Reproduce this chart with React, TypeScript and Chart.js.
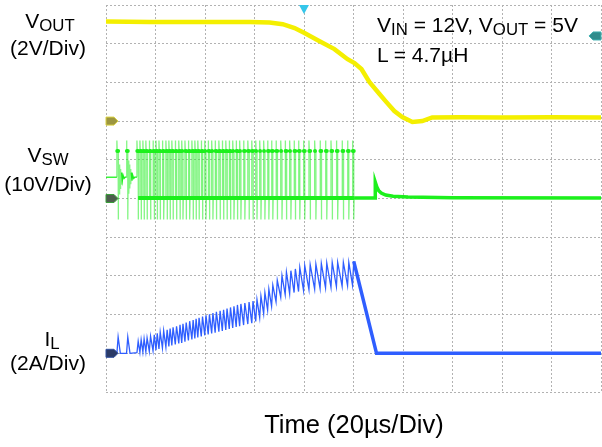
import React, { useEffect, useRef } from 'react';
import { Chart, registerables } from 'chart.js';

Chart.register(...registerables);

const WIDTH = 602;
const HEIGHT = 447;

// ---- axes: time in µs (20 µs/div), vertical in screen divisions ----
const TIME_MIN = 0;
const TIME_MAX = 200;
const TIME_STEP = 20;
const DIV_MIN = 0;
const DIV_MAX = 10;

// ---- channel settings: ground position (div) and units per division ----
const VOUT_GROUND_DIV = 7;
const VOUT_PER_DIV = 2; // V/div
const VSW_GROUND_DIV = 5;
const VSW_PER_DIV = 10; // V/div
const IL_GROUND_DIV = 1;
const IL_PER_DIV = 2; // A/div
const TRIGGER_TIME = 80; // µs
const TRIGGER_LEVEL = 4.4; // V on VOUT

// ---- VOUT (V) ----
const voutTime = [0, 17.7, 37.9, 58.1, 66.1, 71.4, 76.2, 80.2, 86.3, 92.3, 97.6, 100.4, 103.2, 106.4, 110.5, 113.3, 116.5, 119.7, 123.8, 127.8, 131.8, 142.7, 160, 180, 200];
const voutValue = [5.15, 5.12, 5.12, 5.12, 5.1, 5.01, 4.81, 4.55, 4.13, 3.72, 3.2, 3.0, 2.69, 2.02, 1.4, 0.98, 0.52, 0.21, -0.05, 0.0, 0.19, 0.2, 0.19, 0.2, 0.19];

// ---- switching events (µs) ----
const dcmPulseTimes = [4.4, 8.3];
const ccmPulseTimes = [12.5, 13.7, 14.9, 16.1, 17.5, 19.0, 20.2, 21.4, 22.8, 24.2, 25.4, 26.6, 28.0, 29.4, 30.6, 31.9, 33.3, 34.7, 35.9, 37.1, 38.5, 39.9, 41.3, 42.7, 44.1, 45.6, 47.0, 48.4, 49.8, 51.2, 52.6, 54.0, 55.6, 57.3, 58.9, 60.5, 62.1, 63.7, 65.3, 66.9, 68.7, 70.6, 72.4, 74.2, 76.0, 77.8, 79.8, 82.0, 84.3, 86.5, 88.7, 90.9, 93.1, 95.4, 97.6, 99.6];
const ON_TIME = 0.5; // µs
const EDGE = 0.15; // µs

// ---- VSW levels (V) ----
const VSW_IDLE = 5.5;
const VSW_HIGH = 12.3;
const VSW_SPIKE = 15;
const VSW_UNDERSHOOT = -5.4;
const VSW_LOW = 0.1;
// ringing after DCM pulses: time after falling edge (µs), value (V)
const ringDt = [0.2, 0.4, 0.6, 0.8, 1.0, 1.2, 1.4, 1.7, 2.0, 2.4, 2.8];
const ringV = [9.8, 1.2, 8.8, 2.6, 7.6, 3.7, 6.7, 4.6, 6.0, 5.2, 5.5];
// after switching stops
const vswTailTime = [100.25, 108.7, 108.8, 109.4, 110.2, 111.2, 113, 116, 122, 140, 200];
const vswTailValue = [0.1, 0.1, 4.2, 3.0, 2.0, 1.4, 0.9, 0.6, 0.4, 0.2, 0.1];

// ---- IL (A) ----
const ilDcmPeak = [0.85, 0.85];
const IL_DCM_FALL = 0.9; // µs
const ilPeak = [0.62, 0.70, 0.75, 0.80, 0.88, 0.95, 1.03, 1.09, 1.16, 1.22, 1.28, 1.34, 1.40, 1.47, 1.52, 1.59, 1.66, 1.72, 1.78, 1.83, 1.90, 1.96, 2.02, 2.08, 2.14, 2.20, 2.25, 2.31, 2.37, 2.43, 2.50, 2.55, 2.60, 2.65, 2.70, 2.78, 2.96, 3.14, 3.32, 3.52, 3.77, 4.02, 4.19, 4.27, 4.36, 4.44, 4.53, 4.58, 4.61, 4.64, 4.67, 4.70, 4.70, 4.70, 4.70, 4.75];
const ilValley = [0.03, 0.05, 0.06, 0.08, 0.10, 0.13, 0.16, 0.22, 0.27, 0.32, 0.36, 0.41, 0.46, 0.51, 0.54, 0.60, 0.66, 0.72, 0.77, 0.82, 0.87, 0.93, 0.98, 1.03, 1.07, 1.12, 1.16, 1.21, 1.26, 1.31, 1.36, 1.40, 1.46, 1.51, 1.56, 1.65, 1.84, 2.04, 2.23, 2.43, 2.66, 2.90, 3.03, 3.08, 3.14, 3.19, 3.25, 3.29, 3.32, 3.35, 3.38, 3.41, 3.44, 3.47, 3.50, 3.52];
const ilTailTime = [100.1, 109.3, 200];
const ilTailValue = [4.75, 0, 0];

// ---- colours ----
const YELLOW = '#f4ef00';
const GREEN = '#1cf01c';
const GREEN_EDGE = 'rgba(50,238,50,0.6)';
const BLUE = '#2f5eff';
const GRID = '#b2b2b2';

type P = { x: number; y: number | null };

const toDiv = (v: number, ground: number, perDiv: number) => ground + v / perDiv;
const sw = (v: number) => toDiv(v, VSW_GROUND_DIV, VSW_PER_DIV);
const il = (a: number) => toDiv(a, IL_GROUND_DIV, IL_PER_DIV);

function buildVout(): P[] {
  return voutTime.map((t, i) => ({ x: t, y: toDiv(voutValue[i], VOUT_GROUND_DIV, VOUT_PER_DIV) }));
}

function buildVsw(): P[] {
  const pts: P[] = [];
  const push = (t: number, v: number) => pts.push({ x: t, y: sw(v) });
  push(0, VSW_IDLE);
  dcmPulseTimes.forEach((t) => {
    push(t, VSW_IDLE);
    push(t, VSW_SPIKE);
    push(t + EDGE, VSW_HIGH);
    push(t + ON_TIME, VSW_HIGH);
    push(t + ON_TIME, VSW_UNDERSHOOT);
    ringDt.forEach((dt, k) => push(t + ON_TIME + dt, ringV[k]));
  });
  ccmPulseTimes.forEach((t, i) => {
    push(t, i === 0 ? VSW_IDLE : VSW_LOW);
    push(t, VSW_SPIKE);
    push(t + EDGE, VSW_HIGH);
    push(t + ON_TIME, VSW_HIGH);
    push(t + ON_TIME, VSW_UNDERSHOOT);
    push(t + ON_TIME + EDGE, VSW_LOW);
  });
  return pts;
}

// bright "on" plateaus, one short stroke per pulse
function buildVswHighBand(): P[] {
  const pts: P[] = [];
  [...dcmPulseTimes, ...ccmPulseTimes].forEach((t) => {
    pts.push({ x: t + EDGE, y: sw(VSW_HIGH) });
    pts.push({ x: t + ON_TIME, y: sw(VSW_HIGH) });
    pts.push({ x: t + ON_TIME, y: null });
  });
  return pts;
}

// bright "off" level while switching
function buildVswLowBand(): P[] {
  const first = ccmPulseTimes[0];
  const last = ccmPulseTimes[ccmPulseTimes.length - 1];
  return [
    { x: first + ON_TIME, y: sw(VSW_LOW) },
    { x: last + ON_TIME + EDGE, y: sw(VSW_LOW) },
  ];
}

function buildVswTail(): P[] {
  return vswTailTime.map((t, i) => ({ x: t, y: sw(vswTailValue[i]) }));
}

function buildIl(): P[] {
  const pts: P[] = [];
  const push = (t: number, a: number) => pts.push({ x: t, y: il(a) });
  push(0, 0);
  dcmPulseTimes.forEach((t, k) => {
    push(t, 0);
    push(t + ON_TIME, ilDcmPeak[k]);
    push(t + ON_TIME + IL_DCM_FALL, 0);
  });
  ccmPulseTimes.forEach((t, i) => {
    push(t, ilValley[i]);
    push(t + ON_TIME, ilPeak[i]);
  });
  return pts;
}

function buildIlTail(): P[] {
  return ilTailTime.map((t, i) => ({ x: t, y: il(ilTailValue[i]) }));
}

function drawTag(ctx: CanvasRenderingContext2D, x: number, y: number, fill: string, stroke: string, dir: 1 | -1) {
  const w = 12;
  const h = 8;
  ctx.save();
  ctx.beginPath();
  if (dir === 1) {
    ctx.moveTo(x, y - h / 2);
    ctx.lineTo(x + w - 4, y - h / 2);
    ctx.lineTo(x + w, y);
    ctx.lineTo(x + w - 4, y + h / 2);
    ctx.lineTo(x, y + h / 2);
  } else {
    ctx.moveTo(x, y - h / 2);
    ctx.lineTo(x - w + 4, y - h / 2);
    ctx.lineTo(x - w, y);
    ctx.lineTo(x - w + 4, y + h / 2);
    ctx.lineTo(x, y + h / 2);
  }
  ctx.closePath();
  ctx.fillStyle = fill;
  ctx.fill();
  ctx.lineWidth = 1;
  ctx.strokeStyle = stroke;
  ctx.stroke();
  ctx.restore();
}

const scopeMarkers = {
  id: 'scopeMarkers',
  afterDatasetsDraw(chart: any) {
    const { ctx, chartArea, scales } = chart;
    const x = scales.x;
    const y = scales.y;
    drawTag(ctx, chartArea.left, y.getPixelForValue(VOUT_GROUND_DIV), '#9c9640', '#d8d040', 1);
    drawTag(ctx, chartArea.left, y.getPixelForValue(VSW_GROUND_DIV), '#4d5d4d', '#3aa03a', 1);
    drawTag(ctx, chartArea.left, y.getPixelForValue(IL_GROUND_DIV), '#2b3a66', '#3050a0', 1);
    drawTag(ctx, chartArea.right, y.getPixelForValue(VOUT_GROUND_DIV + TRIGGER_LEVEL / VOUT_PER_DIV), '#2f8c8c', '#3fb0b0', -1);
    const tx = x.getPixelForValue(TRIGGER_TIME);
    ctx.save();
    ctx.beginPath();
    ctx.moveTo(tx - 5, chartArea.top);
    ctx.lineTo(tx + 5, chartArea.top);
    ctx.lineTo(tx, chartArea.top + 9);
    ctx.closePath();
    ctx.fillStyle = '#35c6ea';
    ctx.fill();
    ctx.restore();
  },
};

const font = '"Liberation Sans", Arial, Helvetica, sans-serif';

function Label(props: { left: number; width: number; baseline: number; size: number; align: 'left' | 'center'; children: React.ReactNode }) {
  const { left, width, baseline, size, align, children } = props;
  return (
    <div
      style={{
        position: 'absolute',
        left,
        width,
        top: baseline - 0.3465 * size,
        lineHeight: 0,
        fontSize: size,
        textAlign: align,
        whiteSpace: 'nowrap',
        fontFamily: font,
        color: '#000',
      }}
    >
      {children}
    </div>
  );
}

const Sub = (props: { children: React.ReactNode }) => (
  <span style={{ fontSize: '0.8em', position: 'relative', top: '0.22em' }}>{props.children}</span>
);

export default function App() {
  const canvasRef = useRef<HTMLCanvasElement | null>(null);

  useEffect(() => {
    const canvas = canvasRef.current;
    if (!canvas) return;
    const isEdge = (ctx: any) => Math.abs(ctx.p0.x - ctx.p1.x) < 0.6;
    const line = { pointRadius: 0, tension: 0 };
    const chart = new Chart(canvas, {
      type: 'line',
      data: {
        datasets: [
          { ...line, data: buildVout(), borderColor: YELLOW, borderWidth: 4.5 },
          { ...line, data: buildIlTail(), borderColor: BLUE, borderWidth: 3.5 },
          { ...line, data: buildIl(), borderColor: BLUE, borderWidth: 1.3 },
          { ...line, data: buildVswTail(), borderColor: GREEN, borderWidth: 3.5 },
          { ...line, data: buildVswHighBand(), borderColor: GREEN, borderWidth: 4, borderCapStyle: 'round', spanGaps: false },
          { ...line, data: buildVswLowBand(), borderColor: GREEN, borderWidth: 4 },
          {
            ...line,
            data: buildVsw(),
            borderColor: GREEN,
            borderWidth: 1.3,
            segment: {
              borderColor: (ctx: any) => (isEdge(ctx) ? GREEN_EDGE : GREEN),
            },
          } as any,
        ],
      },
      options: {
        animation: false,
        responsive: false,
        maintainAspectRatio: false,
        layout: { padding: { left: 106, top: 5, right: 1, bottom: 55 } },
        plugins: { legend: { display: false }, tooltip: { enabled: false } },
        scales: {
          x: {
            type: 'linear',
            min: TIME_MIN,
            max: TIME_MAX,
            ticks: { display: false, stepSize: TIME_STEP },
            grid: { color: GRID, drawTicks: false, lineWidth: 1 },
            border: { display: false, dash: [2, 2] },
          },
          y: {
            type: 'linear',
            min: DIV_MIN,
            max: DIV_MAX,
            ticks: { display: false, stepSize: 1 },
            grid: { color: GRID, drawTicks: false, lineWidth: 1 },
            border: { display: false, dash: [2, 2] },
          },
        },
      },
      plugins: [scopeMarkers],
    } as any);
    return () => chart.destroy();
  }, []);

  return (
    <div style={{ position: 'fixed', left: 0, top: 0, width: WIDTH, height: HEIGHT, background: '#fff', overflow: 'hidden' }}>
      <canvas ref={canvasRef} width={WIDTH} height={HEIGHT} style={{ position: 'absolute', left: 0, top: 0, width: WIDTH, height: HEIGHT }} />
      <Label left={0} width={100} baseline={28} size={21} align="center">
        V<Sub>OUT</Sub>
      </Label>
      <Label left={0} width={96} baseline={55} size={21} align="center">
        (2V/Div)
      </Label>
      <Label left={0} width={96} baseline={162} size={21} align="center">
        V<Sub>SW</Sub>
      </Label>
      <Label left={0} width={96} baseline={191} size={21} align="center">
        (10V/Div)
      </Label>
      <Label left={0} width={104} baseline={346} size={21} align="center">
        I<Sub>L</Sub>
      </Label>
      <Label left={0} width={96} baseline={370} size={21} align="center">
        (2A/Div)
      </Label>
      <Label left={377} width={220} baseline={32} size={21} align="left">
        V<Sub>IN</Sub> = 12V, V<Sub>OUT</Sub> = 5V
      </Label>
      <Label left={377} width={220} baseline={62} size={21} align="left">
        L = 4.7µH
      </Label>
      <Label left={106} width={496} baseline={433} size={25.5} align="center">
        Time (20µs/Div)
      </Label>
    </div>
  );
}
